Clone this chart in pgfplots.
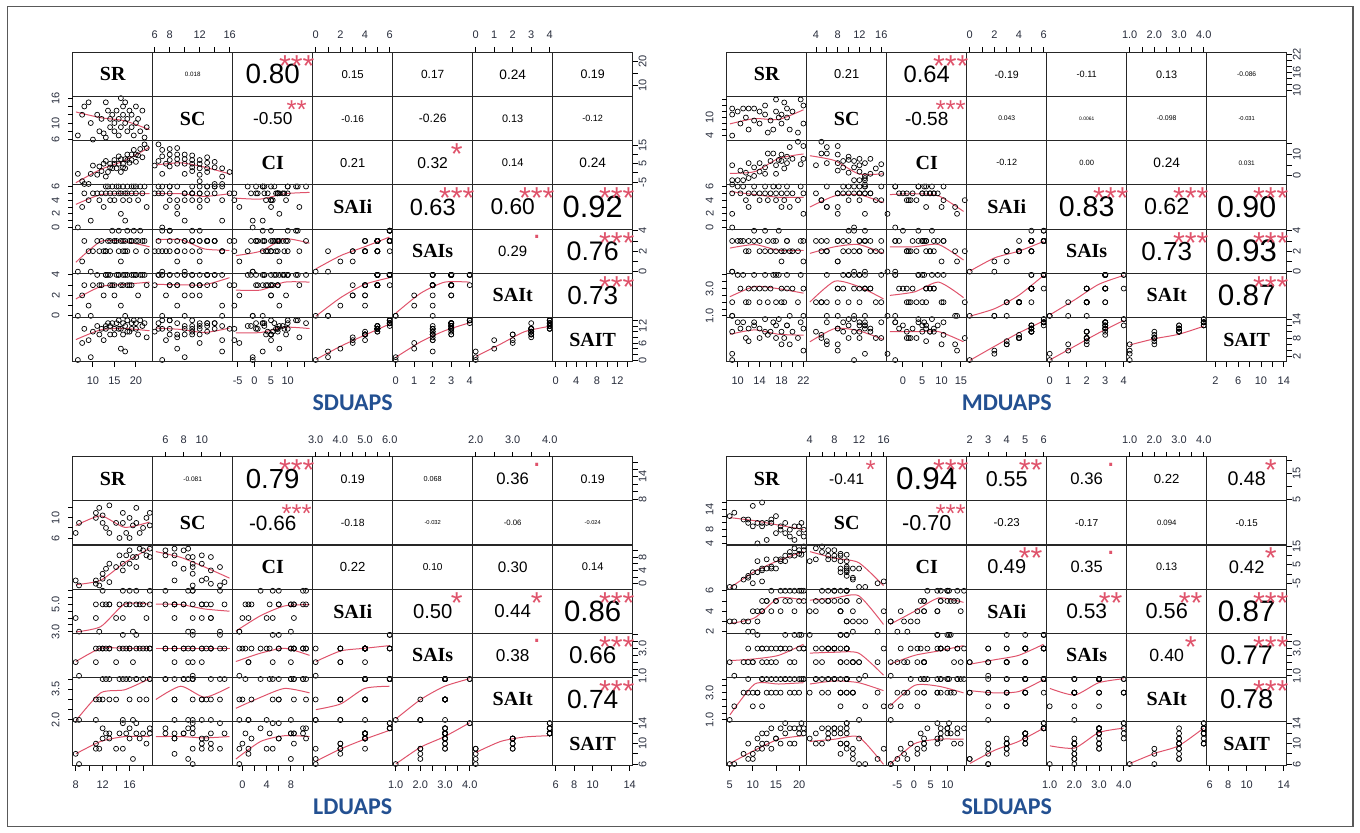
\documentclass[border=0pt]{standalone}
\usepackage{pgfplots}
\pgfplotsset{compat=1.18}
\usepackage{pgfplotstable}
\usepackage{fontspec}
\usepackage{graphicx}
\setmainfont{Liberation Serif}
\setsansfont{Liberation Sans}
\newfontfamily\lblfont{Carlito}
\definecolor{rr}{HTML}{DF536B}
\definecolor{lblblue}{RGB}{35,80,145}
\definecolor{tkc}{RGB}{40,45,60}
\newlength\tw
\newsavebox\twbox

% ---------------- data (SR, SC, CI, SAIi, SAIs, SAIt, SAIT) ----------------
\pgfplotstableread{
SR SC CI SAIi SAIs SAIt SAIT
6.5 7 -0.5 0 0 0 0
7.5 12 -4.5 3 1 2 6
8 14 -6 5 3 3 11
9 15 -6 4 2 1 7
9.5 10 -0.5 1 0 0 1
10 6 4 5 2 3 10
11 12 -1 5 3 4 12
11.5 8 3.5 4 2 3 9
12 11 1 5 3 3 11
12.5 7.5 5 3 2 2 7
13 6.5 6.5 5 2 4 11
13.5 13 0.5 6 3 4 13
14 9 5 4 2 3 9
14 11 3 5 3 4 12
14.5 12 2.5 6 4 3 13
15 8 7 5 3 3 11
15 10 5 4 3 2 9
15.5 13 2.5 6 3 4 13
16 7 9 5 2 4 11
16 11 5 6 4 4 14
16.5 9 7.5 2 1 1 4
16.5 16 0.5 5 3 3 11
17 12 5 4 2 3 9
17 14 3 6 3 4 13
17.5 10 7.5 5 3 4 12
17.5 15 2.5 1 2 0 3
18 8 10 6 4 4 14
18 11 7 5 2 3 10
18.5 13 5.5 4 3 3 10
19 9 10 6 3 4 13
19 12 7 5 3 3 11
19.5 7 12.5 6 4 4 14
20 10 10 5 2 4 11
20 14 6 6 3 4 13
20.5 11 9.5 4 3 2 9
21 8 13 6 4 4 14
21.5 13 8.5 5 3 4 12
22 6.5 15.5 6 3 4 13
22.5 9 13.5 3 2 3 8
13 15 -2 6 2 4 12
}\datA
\pgfplotstableread{
SR SC CI SAIi SAIs SAIt SAIT
9 4 5 5 3 2 10
9 13 -4 2 0 1 3
9 11 -2 0 0 1 1
10 12 -2 6 3 4 13
10.5 8 2.5 5 3 3 11
11 13 -2 6 3 4 13
11.5 10 1.5 4 2 2 8
12 13 -1 5 3 3 11
12 6 6 3 2 2 7
13 13 0 5 4 3 12
13 9 4 6 3 4 13
14 12 2 4 2 2 8
14 8 6 5 3 3 11
15 11 4 6 4 4 14
15 14 1 5 2 3 10
15.5 5 10.5 4 3 2 9
16 9 7 5 2 3 10
16.5 6 10.5 6 3 4 13
17 12 5 5 3 4 12
17 16 1 4 2 2 8
17.5 10 7.5 6 4 4 14
18 8 10 3 1 2 6
18 11 7 5 2 3 10
18.5 15 3.5 4 2 2 8
19 10 9 5 3 4 12
19 13 6 6 3 3 12
19.5 6 13.5 3 2 1 6
20 12 8 5 2 3 10
21 5 16 4 2 2 8
21.5 16 5.5 6 3 4 13
22 14 8 5 3 3 11
22 8 14 2 1 1 4
}\datB
\pgfplotstableread{
SR SC CI SAIi SAIs SAIt SAIT
8 7 1 4 2 2 8
8.5 9 -0.5 3 1 2 6
11 11 0 4 3 3 10
11 10 1 5 2 2 9
11.5 12 -0.5 3 3 3 9
12 10.5 1.5 5 3 3 11
12 9 3 6 3 4 13
12.5 8 4.5 5 3 4 12
13 7 6 5 3 3 11
13 12.5 0.5 5 3 4 12
14 9 5 4 2 3 9
14.5 6 8.5 5 3 4 12
15 9 6 6 4 4 14
15 11 4 4 3 2 9
15.5 7 8.5 5 3 4 12
16 10 6 5 3 3 11
16 6 10 6 3 4 13
16.5 8.5 8 3 2 2 7
17 9 8 5 3 4 12
17 12 5 6 4 4 14
17.5 7 10.5 5 3 3 11
18 8 10 5 3 4 12
18.5 10 8.5 4 3 3 10
19 8.5 10.5 6 3 4 13
19 11 8 5 3 4 12
}\datC
\pgfplotstableread{
SR SC CI SAIi SAIs SAIt SAIT
5 12 -7 3 2 1 6
6 13 -7 3 1 2 6
8 11 -3 3 2 3 8
9 11 -2 2 2 3 7
9 10 -1 3 3 4 10
10 9 1 4 2 2 8
10 15 -5 2 2 3 7
11 10 1 3 3 3 9
11 4 7 4 4 3 11
12 9 3 4 2 4 10
12 10 2 5 3 4 12
13 10 3 5 2 3 10
13 5 8 5 3 4 12
14 10 4 6 3 4 13
14 11 3 4 2 3 9
15 7 8 5 3 3 11
15 12 3 5 2 4 11
16 8 8 6 3 4 13
16 9 7 4 3 3 10
17 7 10 5 3 4 12
17 10 7 6 4 4 14
18 6 12 5 2 3 10
18 8 10 6 3 4 13
19 9 10 6 4 3 13
19 5 14 4 2 4 10
20 7 13 6 3 4 13
20 9 11 5 4 3 12
20.5 10 10.5 6 4 4 14
21 6 15 6 3 4 13
21 8 13 5 3 4 12
12 16 -4 4 3 2 9
}\datD

% ---------------- helpers ----------------
\newcommand\pts[5]{\addplot[only marks, mark=o, mark size=1.25pt, black, line width=0.35pt]
 table[x expr={#2+(\thisrow{#1}-(\csname lo#1\endcsname))/((\csname hi#1\endcsname)-(\csname lo#1\endcsname))},
       y expr={#4+(\thisrow{#3}-(\csname lo#3\endcsname))/((\csname hi#3\endcsname)-(\csname lo#3\endcsname))}] {#5};}
\newcommand\allpts[1]{%
\pts{SR}{0}{SC}{5}{#1}
\pts{SR}{0}{CI}{4}{#1}\pts{SC}{1}{CI}{4}{#1}
\pts{SR}{0}{SAIi}{3}{#1}\pts{SC}{1}{SAIi}{3}{#1}\pts{CI}{2}{SAIi}{3}{#1}
\pts{SR}{0}{SAIs}{2}{#1}\pts{SC}{1}{SAIs}{2}{#1}\pts{CI}{2}{SAIs}{2}{#1}\pts{SAIi}{3}{SAIs}{2}{#1}
\pts{SR}{0}{SAIt}{1}{#1}\pts{SC}{1}{SAIt}{1}{#1}\pts{CI}{2}{SAIt}{1}{#1}\pts{SAIi}{3}{SAIt}{1}{#1}\pts{SAIs}{4}{SAIt}{1}{#1}
\pts{SR}{0}{SAIT}{0}{#1}\pts{SC}{1}{SAIT}{0}{#1}\pts{CI}{2}{SAIT}{0}{#1}\pts{SAIi}{3}{SAIT}{0}{#1}\pts{SAIs}{4}{SAIT}{0}{#1}\pts{SAIt}{5}{SAIT}{0}{#1}}
\newcommand\sm[6]{\addplot[rr, line width=0.5pt, smooth, tension=0.4]
 table[row sep=\\, x expr={#1+\thisrow{x}}, y expr={#2+\thisrow{y}}] {x y\\ 0.04 #3\\ 0.35 #4\\ 0.65 #5\\ 0.96 #6\\};}

\tikzset{tkl/.style={line width=0.45pt, black},
 tl/.style={font=\sffamily\fontsize{5.5}{6}\selectfont, text=tkc, inner sep=0},
 diag/.style={font=\rmfamily\bfseries\fontsize{10}{10}\selectfont, inner sep=0},
 cellline/.style={line width=0.55pt, black!85}}
\pgfplotsset{cellax/.style={scale only axis, width=280pt, hide axis, xmin=0, xmax=7, ymin=0, ymax=7, anchor=south west}}

\newcommand\tkB[4]{\foreach \tv/\lab in {#4}{\pgfmathsetmacro\px{\PX+(#1-1)*80+(\tv-(#2))/((#3)-(#2))*80}%
 \draw[tkl] (\px,833-\PB) -- ++(0,-5); \node[tl] at (\px,833-\PB-19) {\lab};}}
\newcommand\tkT[4]{\foreach \tv/\lab in {#4}{\pgfmathsetmacro\px{\PX+(#1-1)*80+(\tv-(#2))/((#3)-(#2))*80}%
 \draw[tkl] (\px,833-\PY) -- ++(0,5); \node[tl] at (\px,833-\PY+17.3) {\lab};}}
\newcommand\tkL[4]{\foreach \tv/\lab in {#4}{\pgfmathsetmacro\py{833-\PY-(#1)*\PH+(\tv-(#2))/((#3)-(#2))*\PH}%
 \draw[tkl] (\PX,\py) -- ++(-5,0); \node[tl,rotate=90] at (\PX-17,\py) {\lab};}}
\newcommand\tkR[4]{\foreach \tv/\lab in {#4}{\pgfmathsetmacro\py{833-\PY-(#1)*\PH+(\tv-(#2))/((#3)-(#2))*\PH}%
 \draw[tkl] (\PX+560,\py) -- ++(5,0); \node[tl,rotate=90] at (\PX+570,\py) {\lab};}}

\newcommand\grid{%
 \draw[cellline] (\PX,833-\PY) rectangle (\PX+560,833-\PB);
 \foreach \k in {1,...,6}{\draw[cellline] (\PX+\k*80,833-\PY) -- (\PX+\k*80,833-\PB);
   \draw[cellline] (\PX,833-\PY-\k*\PH) -- (\PX+560,833-\PY-\k*\PH);}
 \foreach \k/\n in {1/SR,2/SC,3/CI,4/SAIi,5/SAIs,6/SAIt,7/SAIT}{\node[diag] at (\PX+\k*80-40,833-\PY-\k*\PH+0.5*\PH) {\n};}}

% correlation cell: row, col, text, |r|, signif, raise (em)
\newcommand\cc[6]{%
 \pgfinterruptpicture\global\sbox\twbox{\sffamily\fontsize{10}{10}\selectfont #3}\endpgfinterruptpicture
 \tw=\wd\twbox
 \pgfmathsetmacro\fst{320/\tw}%
 \pgfmathsetmacro\fstar{0.92*\fst}%
 \pgfmathsetmacro\fnum{\fst*(#4+0.3)/1.3}%
 \pgfmathsetmacro\cx{\PX+(#2-0.5)*80}%
 \pgfmathsetmacro\cy{833-\PY-(#1-0.5)*\PH}%
 \node[inner sep=0, font=\sffamily\fontsize{\fnum}{\fnum}\selectfont] at (\cx,\cy) {#3};
 \node[inner sep=0, text=rr, font=\sffamily\fontsize{\fstar}{\fstar}\selectfont] at (\cx+24,\cy+0.3*\PH) {\smash{\raisebox{#6em}{#5}}};}

\begin{document}
\begin{tikzpicture}[x=0.5pt,y=0.5pt]
\useasboundingbox (0,0) rectangle (1360,833);
\draw[black!65, line width=0.8pt] (7.5,6.5) rectangle (1353,826.5);

% ================= Panel A : SDUAPS =================
\def\loSR{5.3}\def\hiSR{23.9}\def\loSC{5.73}\def\hiSC{16.41}\def\loCI{-6.5}\def\hiCI{17.5}
\def\loSAIi{-0.24}\def\hiSAIi{6.24}\def\loSAIs{-0.16}\def\hiSAIs{4.16}\def\loSAIt{-0.16}\def\hiSAIt{4.16}\def\loSAIT{-0.6}\def\hiSAIT{15}
\def\PX{72.7}\def\PY{52.3}\def\PB{361.7}\def\PH{44.2}
\begin{axis}[cellax, height=154.7pt, at={(36.35pt,235.65pt)}]
\allpts{\datA}
\sm{0}{5}{0.65}{0.52}{0.45}{0.25}
\sm{0}{4}{0.05}{0.35}{0.55}{0.85}
\sm{1}{4}{0.45}{0.5}{0.4}{0.25}
\sm{0}{3}{0.56}{0.78}{0.8}{0.8}
\sm{1}{3}{0.8}{0.8}{0.74}{0.8}
\sm{2}{3}{0.7}{0.68}{0.8}{0.83}
\sm{0}{2}{0.25}{0.72}{0.72}{0.6}
\sm{1}{2}{0.76}{0.76}{0.55}{0.52}
\sm{2}{2}{0.4}{0.5}{0.78}{0.68}
\sm{3}{2}{0.1}{0.4}{0.6}{0.82}
\sm{0}{1}{0.42}{0.7}{0.75}{0.8}
\sm{1}{1}{0.75}{0.74}{0.74}{0.9}
\sm{2}{1}{0.62}{0.62}{0.8}{0.8}
\sm{3}{1}{0.03}{0.45}{0.75}{0.9}
\sm{4}{1}{0.1}{0.55}{0.8}{0.8}
\sm{0}{0}{0.5}{0.72}{0.75}{0.7}
\sm{1}{0}{0.76}{0.73}{0.66}{0.76}
\sm{2}{0}{0.65}{0.66}{0.78}{0.75}
\sm{3}{0}{0.05}{0.35}{0.6}{0.85}
\sm{4}{0}{0.1}{0.45}{0.7}{0.88}
\sm{5}{0}{0.12}{0.4}{0.68}{0.8}
\end{axis}
\grid
\tkB{1}{\loSR}{\hiSR}{10/10,15/15,20/20}
\tkB{3}{\loCI}{\hiCI}{-5/-5,0/0,5/5,10/10,15/{}}
\tkB{5}{\loSAIs}{\hiSAIs}{0/0,1/1,2/2,3/3,4/4}
\tkB{7}{\loSAIT}{\hiSAIT}{0/0,2/{},4/4,6/{},8/8,10/{},12/12,14/{}}
\tkT{2}{\loSC}{\hiSC}{6/6,8/8,10/{},12/12,14/{},16/16}
\tkT{4}{\loSAIi}{\hiSAIi}{0/0,1/{},2/2,3/{},4/4,5/{},6/6}
\tkT{6}{\loSAIt}{\hiSAIt}{0/0,1/1,2/2,3/3,4/4}
\tkL{2}{\loSC}{\hiSC}{6/6,8/{},10/10,12/{},14/{},16/16}
\tkL{4}{\loSAIi}{\hiSAIi}{0/0,1/{},2/2,3/{},4/4,5/{},6/6}
\tkL{6}{\loSAIt}{\hiSAIt}{0/0,1/{},2/2,3/{},4/4}
\tkR{1}{\loSR}{\hiSR}{10/10,15/{},20/20}
\tkR{3}{\loCI}{\hiCI}{-5/-5,0/{},5/5,10/{},15/15}
\tkR{5}{\loSAIs}{\hiSAIs}{0/0,1/{},2/2,3/{},4/4}
\tkR{7}{\loSAIT}{\hiSAIT}{0/0,2/{},4/{},6/6,8/{},10/{},12/12,14/{}}
\cc{1}{2}{0.018}{0.018}{}{0}
\cc{1}{3}{0.80}{0.80}{***}{-0.5}
\cc{1}{4}{0.15}{0.15}{}{0}
\cc{1}{5}{0.17}{0.17}{}{0}
\cc{1}{6}{0.24}{0.24}{}{0}
\cc{1}{7}{0.19}{0.19}{}{0}
\cc{2}{3}{-0.50}{0.50}{**}{-0.5}
\cc{2}{4}{-0.16}{0.16}{}{0}
\cc{2}{5}{-0.26}{0.26}{}{0}
\cc{2}{6}{0.13}{0.13}{}{0}
\cc{2}{7}{-0.12}{0.12}{}{0}
\cc{3}{4}{0.21}{0.21}{}{0}
\cc{3}{5}{0.32}{0.32}{*}{-0.5}
\cc{3}{6}{0.14}{0.14}{}{0}
\cc{3}{7}{0.24}{0.24}{}{0}
\cc{4}{5}{0.63}{0.63}{***}{-0.5}
\cc{4}{6}{0.60}{0.60}{***}{-0.5}
\cc{4}{7}{0.92}{0.92}{***}{-0.5}
\cc{5}{6}{0.29}{0.29}{.}{-0.03}
\cc{5}{7}{0.76}{0.76}{***}{-0.5}
\cc{6}{7}{0.73}{0.73}{***}{-0.5}
\node[font=\lblfont\bfseries\fontsize{12}{12}\selectfont, text=lblblue] at (352.7,833-403) {SDUAPS};

% ================= Panel B : MDUAPS =================
\def\loSR{8.0}\def\hiSR{22.6}\def\loSC{2.3}\def\hiSC{17}\def\loCI{-4.2}\def\hiCI{16.5}
\def\loSAIi{-0.24}\def\hiSAIi{6.24}\def\loSAIs{-0.16}\def\hiSAIs{4.16}\def\loSAIt{0.88}\def\hiSAIt{4.12}\def\loSAIT{0.48}\def\hiSAIT{14.52}
\def\PX{726.7}\def\PY{52.3}\def\PB{361.7}\def\PH{44.2}
\begin{axis}[cellax, height=154.7pt, at={(363.35pt,235.65pt)}]
\allpts{\datB}
\sm{0}{5}{0.38}{0.5}{0.48}{0.7}
\sm{0}{4}{0.26}{0.3}{0.6}{0.7}
\sm{1}{4}{0.66}{0.55}{0.25}{0.25}
\sm{0}{3}{0.85}{0.78}{0.72}{0.72}
\sm{1}{3}{0.5}{0.75}{0.78}{0.6}
\sm{2}{3}{0.78}{0.8}{0.75}{0.4}
\sm{0}{2}{0.57}{0.65}{0.52}{0.52}
\sm{1}{2}{0.45}{0.6}{0.65}{0.45}
\sm{2}{2}{0.6}{0.6}{0.65}{0.3}
\sm{3}{2}{0.05}{0.35}{0.5}{0.72}
\sm{0}{1}{0.47}{0.7}{0.65}{0.55}
\sm{1}{1}{0.35}{0.82}{0.7}{0.42}
\sm{2}{1}{0.5}{0.58}{0.8}{0.45}
\sm{3}{1}{0.03}{0.2}{0.5}{0.95}
\sm{4}{1}{0.06}{0.4}{0.75}{0.95}
\sm{0}{0}{0.62}{0.72}{0.62}{0.6}
\sm{1}{0}{0.45}{0.75}{0.7}{0.5}
\sm{2}{0}{0.68}{0.68}{0.68}{0.45}
\sm{3}{0}{0.03}{0.35}{0.65}{0.92}
\sm{4}{0}{0.04}{0.35}{0.65}{0.93}
\sm{5}{0}{0.38}{0.52}{0.62}{0.8}
\end{axis}
\grid
\tkB{1}{\loSR}{\hiSR}{10/10,12/{},14/14,16/{},18/18,20/{},22/22}
\tkB{3}{\loCI}{\hiCI}{0/0,5/5,10/10,15/15}
\tkB{5}{\loSAIs}{\hiSAIs}{0/0,1/1,2/2,3/3,4/4}
\tkB{7}{\loSAIT}{\hiSAIT}{2/2,4/{},6/6,8/{},10/10,12/{},14/14}
\tkT{2}{\loSC}{\hiSC}{4/4,6/{},8/8,10/{},12/12,14/{},16/16}
\tkT{4}{\loSAIi}{\hiSAIi}{0/0,1/{},2/2,3/{},4/4,5/{},6/6}
\tkT{6}{\loSAIt}{\hiSAIt}{1.0/1.0,1.5/{},2.0/2.0,2.5/{},3.0/3.0,3.5/{},4.0/4.0}
\tkL{2}{\loSC}{\hiSC}{4/4,6/{},8/{},10/10,12/{},14/{},16/{}}
\tkL{4}{\loSAIi}{\hiSAIi}{0/0,1/{},2/2,3/{},4/4,5/{},6/6}
\tkL{6}{\loSAIt}{\hiSAIt}{1.0/1.0,1.5/{},2.0/{},2.5/{},3.0/3.0,3.5/{},4.0/{}}
\tkR{1}{\loSR}{\hiSR}{10/10,12/{},14/{},16/16,18/{},20/{},22/22}
\tkR{3}{\loCI}{\hiCI}{0/0,5/{},10/10,15/{}}
\tkR{5}{\loSAIs}{\hiSAIs}{0/0,1/{},2/2,3/{},4/4}
\tkR{7}{\loSAIT}{\hiSAIT}{2/2,4/{},6/{},8/8,10/{},12/{},14/14}
\cc{1}{2}{0.21}{0.21}{}{0}
\cc{1}{3}{0.64}{0.64}{***}{-0.5}
\cc{1}{4}{-0.19}{0.19}{}{0}
\cc{1}{5}{-0.11}{0.11}{}{0}
\cc{1}{6}{0.13}{0.13}{}{0}
\cc{1}{7}{-0.086}{0.086}{}{0}
\cc{2}{3}{-0.58}{0.58}{***}{-0.5}
\cc{2}{4}{0.043}{0.043}{}{0}
\cc{2}{5}{0.0061}{0.0061}{}{0}
\cc{2}{6}{-0.098}{0.098}{}{0}
\cc{2}{7}{-0.031}{0.031}{}{0}
\cc{3}{4}{-0.12}{0.12}{}{0}
\cc{3}{5}{0.00}{0.0}{}{0}
\cc{3}{6}{0.24}{0.24}{}{0}
\cc{3}{7}{0.031}{0.031}{}{0}
\cc{4}{5}{0.83}{0.83}{***}{-0.5}
\cc{4}{6}{0.62}{0.62}{***}{-0.5}
\cc{4}{7}{0.90}{0.90}{***}{-0.5}
\cc{5}{6}{0.73}{0.73}{***}{-0.5}
\cc{5}{7}{0.93}{0.93}{***}{-0.5}
\cc{6}{7}{0.87}{0.87}{***}{-0.5}
\node[font=\lblfont\bfseries\fontsize{12}{12}\selectfont, text=lblblue] at (1006.7,833-403) {MDUAPS};

% ================= Panel C : LDUAPS =================
\def\loSR{7.56}\def\hiSR{19.43}\def\loSC{4.6}\def\hiSC{13.4}\def\loCI{-1.6}\def\hiCI{11.6}
\def\loSAIi{2.88}\def\hiSAIi{6.12}\def\loSAIs{0.88}\def\hiSAIs{4.12}\def\loSAIt{1.92}\def\hiSAIt{4.08}\def\loSAIT{5.68}\def\hiSAIT{14.32}
\def\PX{72.7}\def\PY{456.7}\def\PB{765.7}\def\PH{44.143}
\begin{axis}[cellax, height=154.5pt, at={(36.35pt,33.65pt)}]
\allpts{\datC}
\sm{0}{5}{0.44}{0.66}{0.4}{0.52}
\sm{0}{4}{0.1}{0.2}{0.6}{0.92}
\sm{1}{4}{0.85}{0.72}{0.5}{0.25}
\sm{0}{3}{0.03}{0.15}{0.66}{0.66}
\sm{1}{3}{0.66}{0.65}{0.55}{0.5}
\sm{2}{3}{0.05}{0.4}{0.62}{0.65}
\sm{0}{2}{0.36}{0.66}{0.66}{0.66}
\sm{1}{2}{0.66}{0.66}{0.66}{0.66}
\sm{2}{2}{0.36}{0.55}{0.66}{0.5}
\sm{3}{2}{0.36}{0.6}{0.66}{0.72}
\sm{0}{1}{0.02}{0.65}{0.72}{0.97}
\sm{1}{1}{0.5}{0.8}{0.55}{0.78}
\sm{2}{1}{0.3}{0.55}{0.75}{0.65}
\sm{3}{1}{0.27}{0.4}{0.75}{0.8}
\sm{4}{1}{0.06}{0.5}{0.8}{0.97}
\sm{0}{0}{0.27}{0.55}{0.66}{0.66}
\sm{1}{0}{0.66}{0.66}{0.63}{0.66}
\sm{2}{0}{0.15}{0.55}{0.68}{0.66}
\sm{3}{0}{0.1}{0.38}{0.6}{0.8}
\sm{4}{0}{0.04}{0.42}{0.66}{0.97}
\sm{5}{0}{0.3}{0.55}{0.65}{0.68}
\end{axis}
\grid
\tkB{1}{\loSR}{\hiSR}{8/8,10/{},12/12,14/{},16/16,18/{}}
\tkB{3}{\loCI}{\hiCI}{0/0,2/{},4/4,6/{},8/8,10/{}}
\tkB{5}{\loSAIs}{\hiSAIs}{1.0/1.0,1.5/{},2.0/2.0,2.5/{},3.0/3.0,3.5/{},4.0/4.0}
\tkB{7}{\loSAIT}{\hiSAIT}{6/6,8/8,10/10,12/{},14/14}
\tkT{2}{\loSC}{\hiSC}{6/6,8/8,10/10,12/{}}
\tkT{4}{\loSAIi}{\hiSAIi}{3.0/3.0,3.5/{},4.0/4.0,4.5/{},5.0/5.0,5.5/{},6.0/6.0}
\tkT{6}{\loSAIt}{\hiSAIt}{2.0/2.0,2.5/{},3.0/3.0,3.5/{},4.0/4.0}
\tkL{2}{\loSC}{\hiSC}{6/6,8/{},10/10,12/{}}
\tkL{4}{\loSAIi}{\hiSAIi}{3.0/3.0,3.5/{},4.0/{},4.5/{},5.0/5.0,5.5/{},6.0/{}}
\tkL{6}{\loSAIt}{\hiSAIt}{2.0/2.0,2.5/{},3.0/{},3.5/3.5,4.0/{}}
\tkR{1}{\loSR}{\hiSR}{8/8,10/{},12/{},14/14,16/{},18/{}}
\tkR{3}{\loCI}{\hiCI}{0/0,2/{},4/4,6/{},8/8,10/{}}
\tkR{5}{\loSAIs}{\hiSAIs}{1.0/1.0,1.5/{},2.0/{},2.5/{},3.0/3.0,3.5/{},4.0/{}}
\tkR{7}{\loSAIT}{\hiSAIT}{6/6,8/{},10/10,12/{},14/14}
\cc{1}{2}{-0.081}{0.081}{}{0}
\cc{1}{3}{0.79}{0.79}{***}{-0.5}
\cc{1}{4}{0.19}{0.19}{}{0}
\cc{1}{5}{0.068}{0.068}{}{0}
\cc{1}{6}{0.36}{0.36}{.}{-0.03}
\cc{1}{7}{0.19}{0.19}{}{0}
\cc{2}{3}{-0.66}{0.66}{***}{-0.5}
\cc{2}{4}{-0.18}{0.18}{}{0}
\cc{2}{5}{-0.032}{0.032}{}{0}
\cc{2}{6}{-0.06}{0.06}{}{0}
\cc{2}{7}{-0.024}{0.024}{}{0}
\cc{3}{4}{0.22}{0.22}{}{0}
\cc{3}{5}{0.10}{0.10}{}{0}
\cc{3}{6}{0.30}{0.30}{}{0}
\cc{3}{7}{0.14}{0.14}{}{0}
\cc{4}{5}{0.50}{0.50}{*}{-0.5}
\cc{4}{6}{0.44}{0.44}{*}{-0.5}
\cc{4}{7}{0.86}{0.86}{***}{-0.5}
\cc{5}{6}{0.38}{0.38}{.}{-0.03}
\cc{5}{7}{0.66}{0.66}{***}{-0.5}
\cc{6}{7}{0.74}{0.74}{***}{-0.5}
\node[font=\lblfont\bfseries\fontsize{12}{12}\selectfont, text=lblblue] at (352.7,833-807) {LDUAPS};

% ================= Panel D : SLDUAPS =================
\def\loSR{4.36}\def\hiSR{21.64}\def\loSC{3.52}\def\hiSC{16.48}\def\loCI{-8.2}\def\hiCI{15.8}
\def\loSAIi{1.84}\def\hiSAIi{6.16}\def\loSAIs{0.88}\def\hiSAIs{4.12}\def\loSAIt{0.88}\def\hiSAIt{4.12}\def\loSAIT{5.68}\def\hiSAIT{14.32}
\def\PX{726.7}\def\PY{456.7}\def\PB{765.7}\def\PH{44.143}
\begin{axis}[cellax, height=154.5pt, at={(363.35pt,33.65pt)}]
\allpts{\datD}
\sm{0}{5}{0.62}{0.55}{0.45}{0.35}
\sm{0}{4}{0.03}{0.4}{0.65}{0.85}
\sm{1}{4}{0.85}{0.7}{0.6}{0.08}
\sm{0}{3}{0.22}{0.35}{0.8}{0.75}
\sm{1}{3}{0.75}{0.8}{0.85}{0.2}
\sm{2}{3}{0.2}{0.5}{0.8}{0.7}
\sm{0}{2}{0.38}{0.42}{0.5}{0.75}
\sm{1}{2}{0.55}{0.57}{0.55}{0.05}
\sm{2}{2}{0.3}{0.5}{0.6}{0.72}
\sm{3}{2}{0.3}{0.4}{0.5}{0.75}
\sm{0}{1}{0.15}{0.85}{0.85}{0.88}
\sm{1}{1}{0.85}{0.92}{0.88}{0.7}
\sm{2}{1}{0.35}{0.82}{0.8}{0.65}
\sm{3}{1}{0.7}{0.65}{0.68}{0.95}
\sm{4}{1}{0.75}{0.6}{0.88}{0.97}
\sm{0}{0}{0.05}{0.35}{0.6}{0.68}
\sm{1}{0}{0.55}{0.6}{0.65}{0.03}
\sm{2}{0}{0.03}{0.5}{0.6}{0.6}
\sm{3}{0}{0.05}{0.35}{0.55}{0.85}
\sm{4}{0}{0.45}{0.4}{0.75}{0.85}
\sm{5}{0}{0.05}{0.28}{0.45}{0.85}
\end{axis}
\grid
\tkB{1}{\loSR}{\hiSR}{5/5,10/10,15/15,20/20}
\tkB{3}{\loCI}{\hiCI}{-5/-5,0/0,5/5,10/10,15/{}}
\tkB{5}{\loSAIs}{\hiSAIs}{1.0/1.0,1.5/{},2.0/2.0,2.5/{},3.0/3.0,3.5/{},4.0/4.0}
\tkB{7}{\loSAIT}{\hiSAIT}{6/6,8/8,10/10,12/{},14/14}
\tkT{2}{\loSC}{\hiSC}{4/4,6/{},8/8,10/{},12/12,14/{},16/16}
\tkT{4}{\loSAIi}{\hiSAIi}{2/2,3/3,4/4,5/5,6/6}
\tkT{6}{\loSAIt}{\hiSAIt}{1.0/1.0,1.5/{},2.0/2.0,2.5/{},3.0/3.0,3.5/{},4.0/4.0}
\tkL{2}{\loSC}{\hiSC}{4/4,6/{},8/8,10/{},12/{},14/14,16/{}}
\tkL{4}{\loSAIi}{\hiSAIi}{2/2,3/{},4/4,5/{},6/6}
\tkL{6}{\loSAIt}{\hiSAIt}{1.0/1.0,1.5/{},2.0/{},2.5/{},3.0/3.0,3.5/{},4.0/{}}
\tkR{1}{\loSR}{\hiSR}{5/5,10/{},15/15,20/{}}
\tkR{3}{\loCI}{\hiCI}{-5/-5,0/{},5/5,10/{},15/15}
\tkR{5}{\loSAIs}{\hiSAIs}{1.0/1.0,1.5/{},2.0/{},2.5/{},3.0/3.0,3.5/{},4.0/{}}
\tkR{7}{\loSAIT}{\hiSAIT}{6/6,8/{},10/10,12/{},14/14}
\cc{1}{2}{-0.41}{0.41}{*}{-0.5}
\cc{1}{3}{0.94}{0.94}{***}{-0.5}
\cc{1}{4}{0.55}{0.55}{**}{-0.5}
\cc{1}{5}{0.36}{0.36}{.}{-0.03}
\cc{1}{6}{0.22}{0.22}{}{0}
\cc{1}{7}{0.48}{0.48}{*}{-0.5}
\cc{2}{3}{-0.70}{0.70}{***}{-0.5}
\cc{2}{4}{-0.23}{0.23}{}{0}
\cc{2}{5}{-0.17}{0.17}{}{0}
\cc{2}{6}{0.094}{0.094}{}{0}
\cc{2}{7}{-0.15}{0.15}{}{0}
\cc{3}{4}{0.49}{0.49}{**}{-0.5}
\cc{3}{5}{0.35}{0.35}{.}{-0.03}
\cc{3}{6}{0.13}{0.13}{}{0}
\cc{3}{7}{0.42}{0.42}{*}{-0.5}
\cc{4}{5}{0.53}{0.53}{**}{-0.5}
\cc{4}{6}{0.56}{0.56}{**}{-0.5}
\cc{4}{7}{0.87}{0.87}{***}{-0.5}
\cc{5}{6}{0.40}{0.40}{*}{-0.5}
\cc{5}{7}{0.77}{0.77}{***}{-0.5}
\cc{6}{7}{0.78}{0.78}{***}{-0.5}
\node[font=\lblfont\bfseries\fontsize{12}{12}\selectfont, text=lblblue] at (1006.7,833-807) {SLDUAPS};
\end{tikzpicture}
\end{document}
